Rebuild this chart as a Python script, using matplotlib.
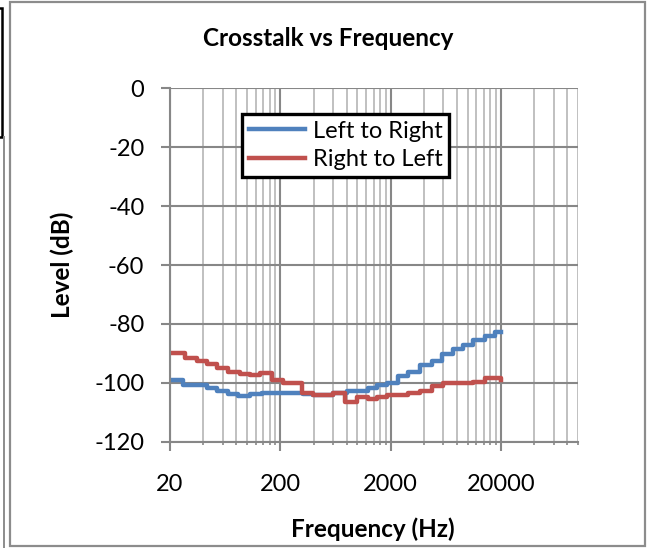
import matplotlib
matplotlib.use("Agg")
import matplotlib.pyplot as plt
from matplotlib.patches import Rectangle
from matplotlib.lines import Line2D
from matplotlib.ticker import FixedLocator, NullFormatter

plt.rcParams["font.family"] = ["Lato", "DejaVu Sans"]
plt.rcParams["axes.unicode_minus"] = False

# data (step breakpoints)
lr_freq = [20, 26.5, 43, 53, 67.6, 82.7, 106, 136, 199, 321, 396, 601, 800,
           1248, 1496, 1844, 2334, 2876, 3696, 4720, 5812, 7360, 9060,
           11160, 14340, 17680, 20000]
lr_level = [-99.0, -100.7, -101.9, -102.7, -103.9, -104.4, -103.9, -103.3,
            -103.6, -103.8, -104.3, -103.6, -102.9, -101.9, -100.7, -100.0,
            -97.6, -96.2, -94.0, -92.5, -90.2, -88.6, -87.2, -85.5, -84.1,
            -82.8, -82.6]

rl_freq = [20, 27.4, 34.9, 43, 53, 67.6, 86.2, 106, 131, 167, 213, 313, 396,
           508, 601, 772, 986, 1248, 1496, 1844, 2334, 2876, 3696, 4720,
           5970, 11160, 14340, 17680, 20000]
rl_level = [-89.8, -91.7, -92.5, -93.7, -95.1, -96.2, -97.1, -97.5, -96.8,
            -99.0, -100.0, -103.6, -104.2, -104.3, -103.3, -106.4, -104.7,
            -105.4, -104.8, -104.2, -104.0, -103.6, -102.8, -101.1, -100.2,
            -99.7, -98.4, -98.5, -99.0]

x_major = [20, 200, 2000, 20000]
x_labels = ["20", "200", "2000", "20000"]
y_ticks = [-120, -100, -80, -60, -40, -20, 0]

W, H = 647, 548
fig = plt.figure(figsize=(W / 100, H / 100), dpi=100)

# outer chart frame and neighbouring box
fig.add_artist(Rectangle((9.5 / W, 1 - 546 / H), (644.5 - 9.5) / W, (546 - 1.5) / H,
                         transform=fig.transFigure, fill=False, ec="#8c8c8c", lw=1.6))
fig.add_artist(Line2D([3.5 / W, 3.5 / W], [0, 1 - 137 / H], transform=fig.transFigure,
                      color="#8c8c8c", lw=1.4))
fig.add_artist(Rectangle((-10 / W, 1 - 137 / H), 12 / W, (137 - 8) / H,
                         transform=fig.transFigure, fc="white", ec="black", lw=1.8))

ax = fig.add_axes([170 / W, 1 - 441.7 / H, (578 - 170) / W, (441.7 - 88.3) / H])
ax.set_xscale("log")
ax.set_xlim(20, 100000)
ax.set_ylim(-120, 0)

minor = [k * 20 * 10 ** n for n in range(4) for k in range(2, 10)]
minor = [m for m in minor if m <= 100000]
ax.xaxis.set_major_locator(FixedLocator(x_major))
ax.set_xticklabels(x_labels)
ax.xaxis.set_minor_locator(FixedLocator(minor))
ax.xaxis.set_minor_formatter(NullFormatter())
ax.set_yticks(y_ticks)

ax.grid(which="minor", axis="x", color="#c0c0c0", lw=1.4)
ax.grid(which="major", axis="both", color="#878787", lw=1.5)
ax.set_axisbelow(True)

for s in ["top", "right"]:
    ax.spines[s].set_visible(False)
for s in ["left", "bottom"]:
    ax.spines[s].set_color("#878787")
    ax.spines[s].set_linewidth(1.5)

ax.tick_params(axis="both", which="major", length=6.5, width=1.5, color="#878787",
               labelsize=17, labelcolor="black")
ax.tick_params(axis="x", which="major", pad=17)
ax.tick_params(axis="y", which="major", pad=12)
ax.tick_params(axis="x", which="minor", length=2, width=1.2, color="#878787")

ax.plot(lr_freq, lr_level, drawstyle="steps-post", color="#4f81bd", lw=3.2,
        label="Left to Right")
ax.plot(rl_freq, rl_level, drawstyle="steps-post", color="#c0504d", lw=3.2,
        label="Right to Left")

fig.text(328 / W, 1 - 39 / H, "Crosstalk vs Frequency", ha="center", va="center",
         fontsize=17.5, fontweight="bold")
fig.text(373 / W, 1 - 529 / H, "Frequency (Hz)", ha="center", va="center",
         fontsize=17.5, fontweight="bold")
fig.text(62 / W, 1 - 265 / H, "Level (dB)", ha="center", va="center",
         rotation=90, fontsize=17.5, fontweight="bold")

leg = ax.legend(loc="upper left", bbox_to_anchor=(241.7 / W, 1 - 113.6 / H),
                bbox_transform=fig.transFigure, borderaxespad=0, fancybox=False,
                framealpha=1, edgecolor="black", fontsize=17, handlelength=2.4,
                handletextpad=0.3, borderpad=0.3, labelspacing=0.3)
leg.get_frame().set_linewidth(2.4)

fig.savefig("out.png", dpi=100)
